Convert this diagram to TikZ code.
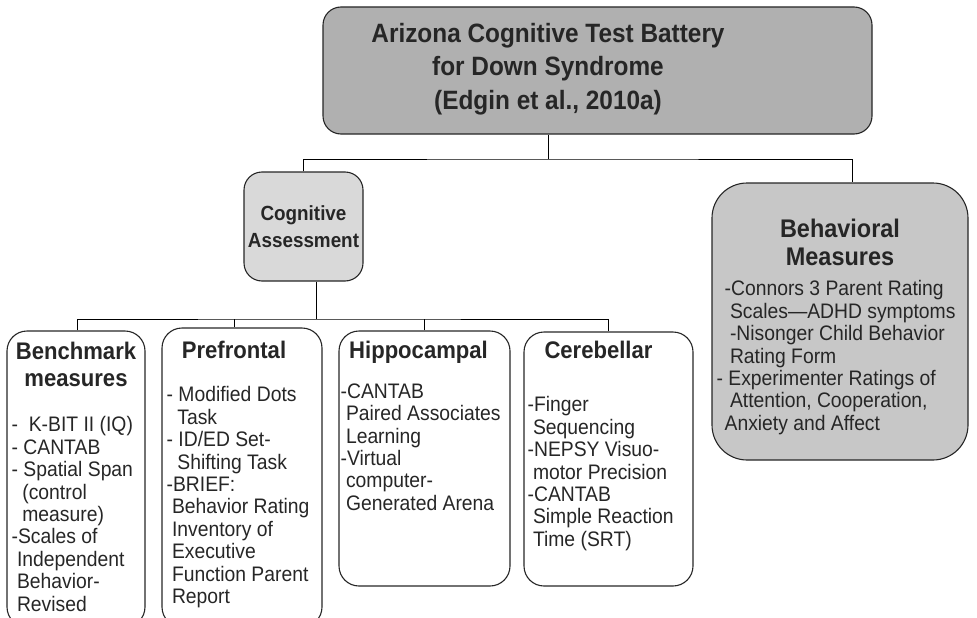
\documentclass[tikz,border=0pt]{standalone}
\usepackage{fontspec}
\setmainfont{Liberation Sans}[FakeStretch=0.92]
\usepackage{tikz}
\usetikzlibrary{positioning}

\begin{document}
\begin{tikzpicture}[x=1pt,y=-1pt,
    box/.style={draw=black!85,line width=1.1pt,rounded corners=20pt,inner sep=0pt},
    head/.style={font=\bfseries\fontsize{24}{27}\selectfont,align=center,inner sep=0pt,text=black!85},
    items/.style={font=\fontsize{21}{22.4}\selectfont,align=left,inner sep=0pt,text=black!85},
    conn/.style={draw=black,line width=1pt}]
\useasboundingbox (0,0) rectangle (977,618);

% boxes
\node[box,fill=black!31,rounded corners=18pt,minimum width=549pt,minimum height=127pt] (battery) at (597.5,70.5) {};
\node[box,fill=black!15,rounded corners=18pt,minimum width=119pt,minimum height=109pt,
      font=\bfseries\fontsize{20.5}{27}\selectfont,align=center,text=black!85] (cog) at (303.5,226.5) {Cognitive\\Assessment};
\node[box,fill=black!22,rounded corners=35pt,minimum width=256pt,minimum height=277pt] (beh) at (840,321.5) {};
\node[box,minimum width=138pt,minimum height=296pt] (bench) at (76,479) {};
\node[box,minimum width=160pt,minimum height=299pt] (pref) at (242,477.5) {};
\node[box,minimum width=171pt,minimum height=255pt] (hip) at (424.5,458.5) {};
\node[box,minimum width=169pt,minimum height=254pt] (cer) at (608.5,459) {};

% texts
\node[font=\bfseries\fontsize{26.5}{33.5}\selectfont,align=center,inner sep=0pt,text=black!85]
      (title) at ([xshift=-49.5pt,yshift=1.5pt]battery.center)
      {Arizona Cognitive Test Battery\\for Down Syndrome\\(Edgin et al., 2010a)};
\node[head,font=\bfseries\fontsize{25.5}{28}\selectfont,below=36pt of beh.north] (behhead) {Behavioral\\Measures};
\node[head,below=11pt of bench.north] (benchhead) {Benchmark\\measures};
\node[head,below=13pt of pref.north,xshift=-8pt] (prefhead) {Prefrontal};
\node[head,below=10pt of hip.north,xshift=-6pt] (hiphead) {Hippocampal};
\node[head,below=9pt of cer.north,xshift=-10pt] (cerhead) {Cerebellar};

\node[items,below right=98pt and 13pt of beh.north west] (behlist)
      {-Connors 3 Parent Rating\\
       \ Scales—ADHD symptoms\\
       \ -Nisonger Child Behavior\\
       \ Rating Form\\
       \hspace*{-8pt}- Experimenter Ratings of\\
       \ Attention, Cooperation,\\
       Anxiety and Affect};
\node[items,below right=86pt and 5pt of bench.north west] (benchlist)
      {- \ K-BIT II (IQ)\\
       - CANTAB\\
       - Spatial Span\\
       \ \ (control\\
       \ \ measure)\\
       -Scales of\\
       \ Independent\\
       \ Behavior-\\
       \ Revised};
\node[items,below right=59pt and 5pt of pref.north west] (preflist)
      {- Modified Dots\\
       \ \ Task\\
       - ID/ED Set-\\
       \ \ Shifting Task\\
       -BRIEF:\\
       \ Behavior Rating\\
       \ Inventory of\\
       \ Executive\\
       \ Function Parent\\
       \ Report};
\node[items,below right=53pt and 2pt of hip.north west] (hiplist)
      {-CANTAB\\
       \ Paired Associates\\
       \ Learning\\
       -Virtual\\
       \ computer-\\
       \ Generated Arena};
\node[items,below right=65pt and 4pt of cer.north west] (cerlist)
      {-Finger\\
       \ Sequencing\\
       -NEPSY Visuo-\\
       \ motor Precision\\
       -CANTAB\\
       \ Simple Reaction\\
       \ Time (SRT)};

% connectors
\coordinate (split1) at (548,159);
\coordinate (split2) at (316,319);
\draw[conn] (split1 |- battery.south) -- (split1);
\draw[conn] (cog.north) |- (split1) -| ([xshift=12pt]beh.north);
\draw[conn] (split2 |- cog.south) -- (split2);
\draw[conn] ([xshift=1pt]bench.north) |- (split2) -| ([xshift=-0.5pt]cer.north);
\draw[conn] ([xshift=-8pt]pref.north) -- ([xshift=-8pt]pref.north |- split2);
\draw[conn] (hip.north) -- (hip.north |- split2);
\end{tikzpicture}
\end{document}
